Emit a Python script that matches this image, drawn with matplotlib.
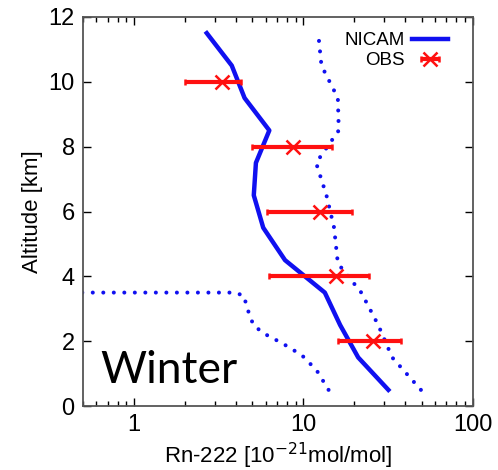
import matplotlib
matplotlib.use("Agg")
import matplotlib.pyplot as plt
from matplotlib.ticker import LogLocator, NullFormatter, FixedLocator, FixedFormatter

plt.rcParams['font.family'] = ['Liberation Sans', 'DejaVu Sans']

# NICAM mean profile
nicam_alt = [0.5, 1.5, 2.5, 3.5, 4.5, 5.5, 6.5, 7.5, 8.5, 9.5, 10.5, 11.5]
nicam_rn = [31.8, 21.1, 16.5, 13.4, 7.8, 5.8, 5.1, 5.25, 6.3, 4.5, 3.78, 2.69]

# NICAM range (dotted): upper and lower envelopes
upper_alt = [0.5, 1.5, 2.5, 3.5, 4.4, 5.5, 6.5, 7.5, 8.5, 9.5, 10.5, 11.5]
upper_rn = [49.5, 33.5, 27.7, 22.0, 16.0, 15.2, 13.7, 11.9, 16.2, 16.0, 12.8, 12.25]
lower_alt = [0.5, 1.1, 1.57, 1.93, 2.25, 2.5, 3.06, 3.4, 3.5, 3.5]
lower_rn = [14.1, 12.0, 9.8, 7.55, 5.8, 5.07, 4.63, 4.47, 3.94, 0.01]

# observations
obs_alt = [2, 4, 6, 8, 10]
obs_rn = [25.7, 15.5, 12.5, 8.7, 3.3]
obs_lo = [16.0, 6.3, 6.1, 4.95, 2.0]
obs_hi = [37.6, 24.4, 19.5, 14.7, 4.3]

fig = plt.figure(figsize=(4.98, 4.70), dpi=100)
ax = fig.add_axes([0.1667, 0.136, 0.7823, 0.828])

for xs, ys in [(upper_rn, upper_alt), (lower_rn, lower_alt)]:
    ax.plot(xs, ys, color='#1010f0', lw=2.9, dashes=(0.01, 2.6),
            dash_capstyle='round')
ax.plot(nicam_rn, nicam_alt, color='#1010f0', lw=3.2, label='NICAM')

xerr = [[m - l for m, l in zip(obs_rn, obs_lo)], [h - m for m, h in zip(obs_rn, obs_hi)]]
eb = ax.errorbar(obs_rn, obs_alt, xerr=xerr, fmt='x', color='#ff1010', ms=10, mew=1.8,
                 elinewidth=3, capsize=2.5, capthick=1.2, label='OBS')
for cap in eb[1]:
    cap.set_color('#ff30ff')

ax.set_xscale('log')
ax.set_xlim(0.5, 100)
ax.set_ylim(0, 12)
ax.set_yticks([0, 2, 4, 6, 8, 10, 12])
ax.xaxis.set_major_locator(FixedLocator([1, 10, 100]))
ax.xaxis.set_major_formatter(FixedFormatter(['1', '10', '100']))
ax.xaxis.set_minor_locator(LogLocator(base=10, subs=range(2, 10)))
ax.xaxis.set_minor_formatter(NullFormatter())

ax.tick_params(axis='both', which='major', direction='in', length=6, width=1,
               labelsize=17, top=True, right=True, pad=6)
ax.tick_params(axis='x', which='minor', direction='in', length=3.5, width=1, top=True)
for s in ax.spines.values():
    s.set_color('#555555')
    s.set_linewidth(1.3)

ax.set_ylabel('Altitude [km]', fontsize=16, labelpad=4)
ax.set_xlabel('Rn-222 [10$^{-21}$mol/mol]', fontsize=16, labelpad=3)

ax.text(0.045, 0.06, 'Winter', transform=ax.transAxes, fontsize=32,
        family=['Lato', 'DejaVu Sans'])

ax.legend(loc='upper right', bbox_to_anchor=(0.965, 0.99), frameon=False,
          markerfirst=False, fontsize=13.5, handlelength=1.9, handletextpad=0.4,
          labelspacing=0.15, borderaxespad=0.2)

fig.savefig('out.png', dpi=100)
